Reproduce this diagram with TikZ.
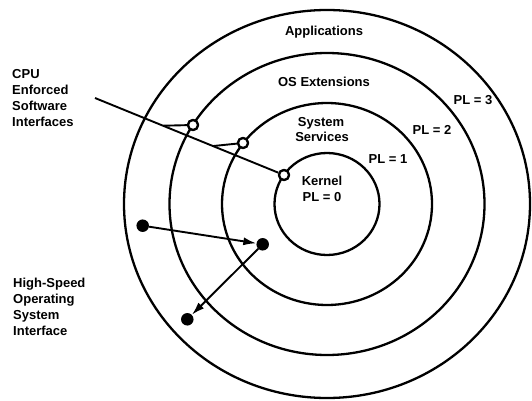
\documentclass[tikz,border=0pt]{standalone}
\usepackage{fontspec}
\setmainfont{Liberation Sans}
\usetikzlibrary{arrows.meta,calc}
\begin{document}
\begin{tikzpicture}[x=1pt,y=-1pt,
  ring/.style={line width=2.3pt},
  lbl/.style={font=\bfseries\fontsize{13}{16}\selectfont, inner sep=0pt},
  wire/.style={line width=1.9pt},
  gate/.style={circle, draw, line width=2.2pt, fill=white, minimum size=10pt, inner sep=0pt},
  dot/.style={circle, fill=black, minimum size=12.5pt, inner sep=0pt},
  flow/.style={line width=1.9pt, -{Latex[length=13pt,width=8pt]}}]
\useasboundingbox (0,0) rectangle (532,401);

% protection rings
\coordinate (c) at (327,204);
\draw[ring] (c) ellipse [x radius=203pt, y radius=194pt];
\draw[ring] (c) ellipse [x radius=157.5pt, y radius=151pt];
\draw[ring] (c) ellipse [x radius=105pt, y radius=101pt];
\draw[ring] (c) ellipse [x radius=52.5pt, y radius=51pt];

% ring labels
\node[lbl, anchor=base] (apps) at (324,36) {Applications};
\node[lbl, anchor=base] (osext) at (324,87) {OS Extensions};
\node[lbl, anchor=base] (sys1) at (321,126) {System};
\node[lbl, anchor=base] (sys2) at (322,141) {Services};
\node[lbl, anchor=base] (kern) at (322,185) {Kernel};
\node[lbl, anchor=base] (pl0) at (322,201) {PL = 0};
\node[lbl, anchor=base] (pl1) at (388,163) {PL = 1};
\node[lbl, anchor=base] (pl2) at (432,134) {PL = 2};
\node[lbl, anchor=base] (pl3) at (473,104) {PL = 3};

% side captions
\node[lbl, anchor=north west, align=left] (cpu) at (12,69.5)
  {CPU\\Enforced\\Software\\Interfaces};
\node[lbl, anchor=north west, align=left] (hs) at (13,278)
  {High-Speed\\Operating\\System\\Interface};

% call gates on the rings
\coordinate (wstart) at (95,98);
\node[gate] (g0) at (284,175) {};
\node[gate] (g2) at (193,125) {};
\node[gate] (g1) at (243,143) {};
\draw[wire] (wstart) -- (g0);
\coordinate (s2) at ($(wstart)!0.36!(g0)$);
\coordinate (s1) at ($(wstart)!0.624!(g0)$);
\draw[wire] (s2) -- (g2);
\draw[wire] (s1) -- (g1);
\node[gate] at (g0) {};
\node[gate] at (g2) {};
\node[gate] at (g1) {};

% fast path between rings
\node[dot] (da) at (142.7,225.7) {};
\node[dot] (db) at (262.7,244.3) {};
\node[dot] (dc) at (187.3,319.3) {};
\draw[flow] (da) -- (db);
\draw[flow] (db) -- (dc);
\end{tikzpicture}
\end{document}
